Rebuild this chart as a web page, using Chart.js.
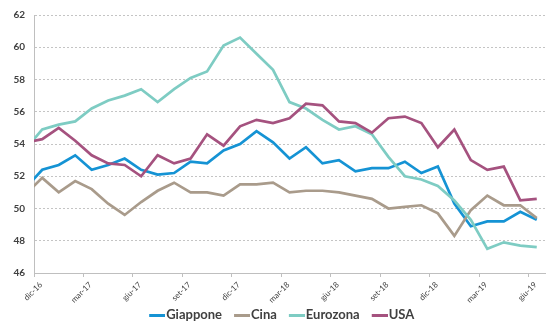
<!DOCTYPE html>
<html>
<head>
<meta charset="utf-8">
<script src="https://cdn.jsdelivr.net/npm/chart.js@4/dist/chart.umd.min.js"></script>
<style>
html,body{margin:0;padding:0;background:#fff;}
#wrap{width:546px;height:325px;position:relative;}
</style>
</head>
<body>
<div id="wrap"><canvas id="c" width="546" height="325"></canvas></div>
<script>
// Months (nov-16 is only partly visible at the left edge)
const months = ['nov-16','dic-16','gen-17','feb-17','mar-17','apr-17','mag-17','giu-17','lug-17','ago-17','set-17','ott-17','nov-17','dic-17',
  'gen-18','feb-18','mar-18','apr-18','mag-18','giu-18','lug-18','ago-18','set-18','ott-18','nov-18','dic-18',
  'gen-19','feb-19','mar-19','apr-19','mag-19','giu-19'];
const seriesNames = ['Giappone','Cina','Eurozona','USA'];
const giappone = [51.3, 52.4,52.7,53.3,52.4,52.7,53.1, 52.4,52.1,52.2,52.9,52.8,53.6,54.0, 54.8,54.1,53.1,53.8,52.8,53.0, 52.3,52.5,52.5,52.9,52.2,52.6,50.3, 48.9,49.2,49.2,49.8,49.3];
const cina     = [50.9, 51.9,51.0,51.7,51.2,50.3,49.6, 50.4,51.1,51.6,51.0,51.0,50.8,51.5, 51.5,51.6,51.0,51.1,51.1,51.0, 50.8,50.6,50.0,50.1,50.2,49.7,48.3, 49.9,50.8,50.2,50.2,49.4];
const eurozona = [53.7, 54.9,55.2,55.4,56.2,56.7,57.0, 57.4,56.6,57.4,58.1,58.5,60.1,60.6, 59.6,58.6,56.6,56.2,55.5,54.9, 55.1,54.6,53.2,52.0,51.8,51.4,50.5, 49.3,47.5,47.9,47.7,47.6];
const usa      = [54.1, 54.3,55.0,54.2,53.3,52.8,52.7, 52.0,53.3,52.8,53.1,54.6,53.9,55.1, 55.5,55.3,55.6,56.5,56.4,55.4, 55.3,54.7,55.6,55.7,55.3,53.8,54.9, 53.0,52.4,52.6,50.5,50.6];
const yMin = 46, yMax = 62, yStep = 2;

const colors = ['#1593D4','#A99B8B','#7ECCC3','#A5527F'];
const values = [giappone, cina, eurozona, usa];

// legend marker: 16px line that ends 1px before the label text
const LEG_BOX = 17, LEG_LINE = 16;
function legendLine(color){
  const c = document.createElement('canvas');
  c.width = LEG_BOX + 11; c.height = 3;
  const g = c.getContext('2d');
  g.fillStyle = color;
  g.fillRect(c.width - LEG_LINE, 0, LEG_LINE, 3);
  return c;
}

// points sit mid-month; tick k marks the start of month k (dic-16 = 0)
const toPoints = arr => arr.map((v, i) => ({x: i - 0.5, y: v}));

const datasets = seriesNames.map((name, s) => ({
  label: name,
  data: toPoints(values[s]),
  borderColor: colors[s],
  backgroundColor: colors[s],
  borderWidth: 2.7,
  pointRadius: 0,
  pointHoverRadius: 0,
  pointStyle: legendLine(colors[s]),
  tension: 0,
  clip: 0,
  order: 3 - s
}));

new Chart(document.getElementById('c'), {
  type: 'line',
  data: { datasets },
  options: {
    responsive: false,
    animation: false,
    events: [],
    layout: { padding: { top: 15, right: 1, left: 12, bottom: 0 } },
    scales: {
      x: {
        type: 'linear',
        min: 0,
        max: months.length - 1,
        afterFit: s => { s.height = 30; },
        grid: { drawOnChartArea: false, drawTicks: true, tickLength: 4, tickColor: '#bfbfbf' },
        border: { display: true, color: '#bfbfbf', width: 1 },
        ticks: {
          stepSize: 3,
          includeBounds: false,
          autoSkip: false,
          maxRotation: 45,
          minRotation: 45,
          labelOffset: 7,
          padding: 3,
          color: '#404040',
          font: { family: 'Lato', size: 8 },
          callback: v => months[v + 1] || ''
        }
      },
      y: {
        min: yMin,
        max: yMax,
        afterFit: s => { s.width = 22; },
        grid: { color: '#c4c4c4', lineWidth: 1, drawTicks: false },
        border: { display: true, color: '#bfbfbf', width: 1, dash: [2, 2] },
        ticks: {
          stepSize: yStep,
          padding: 9,
          color: '#404040',
          font: { family: 'Lato', size: 10, weight: 'bold' }
        }
      }
    },
    plugins: {
      legend: {
        position: 'bottom',
        maxHeight: 22,
        labels: {
          usePointStyle: true,
          pointStyleWidth: LEG_BOX,
          padding: 5.5,
          color: '#404040',
          font: { family: 'Lato', size: 13, weight: 'bold' },
          sort: (a, b) => a.datasetIndex - b.datasetIndex
        }
      },
      tooltip: { enabled: false }
    }
  }
});
</script>
</body>
</html>
